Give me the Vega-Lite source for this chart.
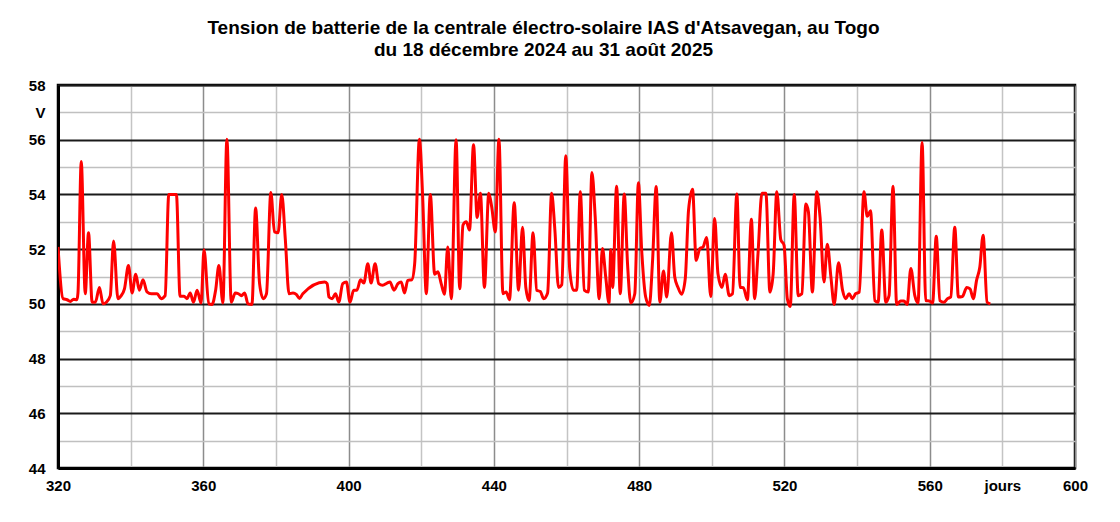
{
  "$schema": "https://vega.github.io/schema/vega-lite/v6.json",
  "autosize": "none",
  "width": 1017,
  "height": 383,
  "padding": {"left": 58, "top": 85, "right": 45, "bottom": 54},
  "background": "#ffffff",
  "title": {
    "text": ["Tension de batterie de la centrale électro-solaire IAS d'Atsavegan, au Togo", "du 18 décembre 2024 au 31 août 2025"],
    "font": "Liberation Sans",
    "fontSize": 19,
    "fontWeight": "bold",
    "color": "#000000",
    "anchor": "middle",
    "frame": "group",
    "dx": -23,
    "offset": 18,
    "lineHeight": 22
  },
  "config": {
    "view": {"stroke": "#000000", "strokeWidth": 2.5},
    "axis": {
      "labelFont": "Liberation Sans",
      "labelFontWeight": "bold",
      "labelFontSize": 15,
      "labelColor": "#000000",
      "domainColor": "#000000",
      "domainWidth": 3,
      "ticks": false,
      "title": null
    }
  },
  "data": {
    "values": [
      {"d": 320.0, "v": 52.08}, {"d": 321.4, "v": 50.19}, {"d": 322.5, "v": 50.15}, {"d": 323.4, "v": 50.09},
      {"d": 324.3, "v": 50.17}, {"d": 325.2, "v": 50.15}, {"d": 325.5, "v": 50.4}, {"d": 326.4, "v": 55.2},
      {"d": 327.5, "v": 50.37}, {"d": 328.4, "v": 52.6}, {"d": 329.4, "v": 50.06}, {"d": 330.3, "v": 50.06},
      {"d": 331.4, "v": 50.6}, {"d": 332.4, "v": 50.0}, {"d": 333.3, "v": 50.06}, {"d": 334.4, "v": 50.3},
      {"d": 335.3, "v": 52.3}, {"d": 336.5, "v": 50.19}, {"d": 337.4, "v": 50.3}, {"d": 338.3, "v": 50.55},
      {"d": 339.4, "v": 51.4}, {"d": 340.4, "v": 50.4}, {"d": 341.4, "v": 51.08}, {"d": 342.4, "v": 50.5},
      {"d": 343.4, "v": 50.88}, {"d": 344.5, "v": 50.44}, {"d": 345.7, "v": 50.37}, {"d": 347.3, "v": 50.37},
      {"d": 348.4, "v": 50.19}, {"d": 349.5, "v": 50.3}, {"d": 350.5, "v": 54.0}, {"d": 352.6, "v": 54.0},
      {"d": 353.6, "v": 50.28}, {"d": 354.7, "v": 50.28}, {"d": 355.5, "v": 50.19}, {"d": 356.4, "v": 50.4},
      {"d": 357.3, "v": 50.06}, {"d": 358.3, "v": 50.5}, {"d": 359.4, "v": 50.03}, {"d": 360.2, "v": 51.98},
      {"d": 361.5, "v": 50.0}, {"d": 362.4, "v": 49.98}, {"d": 363.4, "v": 50.5}, {"d": 364.3, "v": 51.4},
      {"d": 365.4, "v": 50.03}, {"d": 366.5, "v": 56.02}, {"d": 367.7, "v": 50.06}, {"d": 368.8, "v": 50.4},
      {"d": 369.7, "v": 50.37}, {"d": 370.5, "v": 50.3}, {"d": 371.4, "v": 50.4}, {"d": 372.3, "v": 50.0},
      {"d": 373.4, "v": 49.98}, {"d": 374.4, "v": 53.5}, {"d": 375.5, "v": 50.74}, {"d": 376.5, "v": 50.19},
      {"d": 377.4, "v": 50.37}, {"d": 378.6, "v": 54.07}, {"d": 379.6, "v": 52.63}, {"d": 380.6, "v": 52.6},
      {"d": 381.6, "v": 54.0}, {"d": 382.6, "v": 52.33}, {"d": 383.6, "v": 50.37}, {"d": 384.7, "v": 50.4},
      {"d": 385.6, "v": 50.35}, {"d": 386.5, "v": 50.2}, {"d": 387.4, "v": 50.37}, {"d": 393.4, "v": 50.8},
      {"d": 394.1, "v": 50.74}, {"d": 394.6, "v": 50.25}, {"d": 395.5, "v": 50.19}, {"d": 396.4, "v": 50.37},
      {"d": 397.3, "v": 50.06}, {"d": 398.4, "v": 50.74}, {"d": 399.4, "v": 50.8}, {"d": 400.4, "v": 50.06},
      {"d": 401.4, "v": 50.5}, {"d": 402.3, "v": 50.5}, {"d": 403.3, "v": 50.88}, {"d": 404.2, "v": 50.76},
      {"d": 405.3, "v": 51.47}, {"d": 406.2, "v": 50.76}, {"d": 407.3, "v": 51.47}, {"d": 408.3, "v": 50.74},
      {"d": 409.4, "v": 50.68}, {"d": 410.6, "v": 50.76}, {"d": 411.4, "v": 50.8}, {"d": 412.5, "v": 50.5},
      {"d": 413.6, "v": 50.74}, {"d": 414.5, "v": 50.8}, {"d": 415.4, "v": 50.4}, {"d": 416.3, "v": 50.86},
      {"d": 417.4, "v": 50.88}, {"d": 418.2, "v": 51.47}, {"d": 419.5, "v": 56.02}, {"d": 420.4, "v": 53.9},
      {"d": 421.4, "v": 50.37}, {"d": 422.5, "v": 54.0}, {"d": 423.7, "v": 51.08}, {"d": 424.6, "v": 51.17},
      {"d": 425.5, "v": 50.74}, {"d": 426.4, "v": 50.35}, {"d": 427.3, "v": 52.08}, {"d": 428.3, "v": 50.19},
      {"d": 429.6, "v": 56.0}, {"d": 430.6, "v": 50.55}, {"d": 431.5, "v": 52.88}, {"d": 432.4, "v": 53.0},
      {"d": 433.3, "v": 52.7}, {"d": 434.4, "v": 55.82}, {"d": 435.4, "v": 53.16}, {"d": 436.3, "v": 54.04},
      {"d": 437.4, "v": 50.6}, {"d": 438.6, "v": 54.04}, {"d": 439.4, "v": 53.55}, {"d": 440.4, "v": 52.63},
      {"d": 441.4, "v": 56.02}, {"d": 442.5, "v": 50.37}, {"d": 443.4, "v": 50.43}, {"d": 444.3, "v": 50.15},
      {"d": 445.6, "v": 53.7}, {"d": 446.8, "v": 50.5}, {"d": 447.9, "v": 52.8}, {"d": 448.8, "v": 50.6},
      {"d": 449.7, "v": 50.12}, {"d": 450.8, "v": 52.6}, {"d": 451.8, "v": 50.5}, {"d": 452.8, "v": 50.45},
      {"d": 453.7, "v": 50.19}, {"d": 454.8, "v": 50.4}, {"d": 455.9, "v": 54.04}, {"d": 456.8, "v": 52.7},
      {"d": 457.8, "v": 50.6}, {"d": 458.7, "v": 50.7}, {"d": 459.8, "v": 55.41}, {"d": 460.9, "v": 51.23},
      {"d": 461.9, "v": 50.5}, {"d": 462.8, "v": 50.5}, {"d": 463.8, "v": 54.1}, {"d": 464.9, "v": 50.5},
      {"d": 466.0, "v": 50.43}, {"d": 467.0, "v": 54.8}, {"d": 467.9, "v": 53.18}, {"d": 469.0, "v": 50.19},
      {"d": 469.9, "v": 52.02}, {"d": 470.8, "v": 50.98}, {"d": 471.7, "v": 50.03}, {"d": 472.2, "v": 51.98},
      {"d": 472.7, "v": 50.6}, {"d": 473.8, "v": 54.3}, {"d": 474.8, "v": 50.37}, {"d": 475.9, "v": 54.02},
      {"d": 476.8, "v": 51.47}, {"d": 477.7, "v": 50.03}, {"d": 478.8, "v": 50.37}, {"d": 479.8, "v": 54.43},
      {"d": 480.7, "v": 51.96}, {"d": 481.8, "v": 50.25}, {"d": 482.8, "v": 49.94}, {"d": 483.7, "v": 51.59},
      {"d": 484.7, "v": 54.29}, {"d": 485.7, "v": 50.06}, {"d": 486.7, "v": 51.2}, {"d": 487.6, "v": 50.25},
      {"d": 488.9, "v": 52.6}, {"d": 489.8, "v": 50.98}, {"d": 490.7, "v": 50.6}, {"d": 491.7, "v": 50.35},
      {"d": 492.7, "v": 50.92}, {"d": 493.6, "v": 53.43}, {"d": 494.7, "v": 54.19}, {"d": 495.7, "v": 51.59},
      {"d": 496.7, "v": 52.02}, {"d": 497.6, "v": 52.08}, {"d": 498.6, "v": 52.43}, {"d": 499.7, "v": 50.27},
      {"d": 500.8, "v": 53.12}, {"d": 501.7, "v": 51.1}, {"d": 502.8, "v": 50.6}, {"d": 503.7, "v": 51.08},
      {"d": 504.8, "v": 50.3}, {"d": 505.7, "v": 50.37}, {"d": 506.9, "v": 54.02}, {"d": 507.8, "v": 50.6},
      {"d": 508.7, "v": 50.59}, {"d": 509.8, "v": 50.15}, {"d": 510.9, "v": 53.09}, {"d": 511.8, "v": 50.19},
      {"d": 512.7, "v": 51.78}, {"d": 513.8, "v": 54.04}, {"d": 514.9, "v": 54.04}, {"d": 516.0, "v": 50.43},
      {"d": 516.9, "v": 51.1}, {"d": 517.9, "v": 54.1}, {"d": 519.0, "v": 52.35}, {"d": 519.9, "v": 52.14},
      {"d": 520.8, "v": 50.19}, {"d": 521.6, "v": 49.9}, {"d": 522.7, "v": 54.0}, {"d": 523.8, "v": 50.3},
      {"d": 524.8, "v": 50.37}, {"d": 525.9, "v": 53.65}, {"d": 526.6, "v": 53.37}, {"d": 527.7, "v": 50.43},
      {"d": 528.9, "v": 54.1}, {"d": 529.8, "v": 53.18}, {"d": 530.9, "v": 50.8}, {"d": 531.8, "v": 52.18},
      {"d": 532.8, "v": 50.98}, {"d": 533.7, "v": 49.98}, {"d": 534.9, "v": 51.5}, {"d": 536.0, "v": 50.5},
      {"d": 536.9, "v": 50.19}, {"d": 537.8, "v": 50.37}, {"d": 538.7, "v": 50.19}, {"d": 539.6, "v": 50.37},
      {"d": 540.6, "v": 50.43}, {"d": 541.9, "v": 54.1}, {"d": 542.8, "v": 53.2}, {"d": 543.7, "v": 53.4},
      {"d": 544.9, "v": 50.12}, {"d": 545.8, "v": 50.06}, {"d": 546.8, "v": 52.7}, {"d": 547.9, "v": 50.06},
      {"d": 548.8, "v": 50.3}, {"d": 549.9, "v": 54.3}, {"d": 550.9, "v": 49.98}, {"d": 552.0, "v": 50.1},
      {"d": 552.9, "v": 50.1}, {"d": 553.8, "v": 49.98}, {"d": 554.8, "v": 51.29}, {"d": 555.9, "v": 50.3},
      {"d": 556.8, "v": 50.03}, {"d": 557.9, "v": 55.9}, {"d": 558.9, "v": 50.12}, {"d": 560.0, "v": 50.1},
      {"d": 560.8, "v": 50.03}, {"d": 561.8, "v": 52.47}, {"d": 562.8, "v": 50.12}, {"d": 563.9, "v": 50.06},
      {"d": 564.9, "v": 50.19}, {"d": 565.8, "v": 50.25}, {"d": 566.9, "v": 52.8}, {"d": 567.9, "v": 50.25},
      {"d": 569.0, "v": 50.27}, {"d": 570.2, "v": 50.6}, {"d": 571.1, "v": 50.55}, {"d": 572.0, "v": 50.19},
      {"d": 572.9, "v": 50.86}, {"d": 573.8, "v": 51.35}, {"d": 574.7, "v": 52.51}, {"d": 575.8, "v": 50.06},
      {"d": 576.7, "v": 50.0}
    ]
  },
  "mark": {"type": "line", "color": "#ff0000", "strokeWidth": 3, "interpolate": "monotone", "clip": true},
  "encoding": {
    "x": {
      "field": "d",
      "type": "quantitative",
      "scale": {"domain": [320, 600], "nice": false, "zero": false},
      "axis": {
        "values": [320, 340, 360, 380, 400, 420, 440, 460, 480, 500, 520, 540, 560, 580, 600],
        "labelExpr": "datum.value == 580 ? 'jours' : (datum.value % 40 == 0 ? datum.label : '')",
        "labelPadding": 10,
        "labelFlush": false,
        "labelOverlap": false,
        "grid": true,
        "gridColor": {"condition": {"test": "datum.value % 40 == 0", "value": "#8c8c8c"}, "value": "#c4c4c4"},
        "gridWidth": 1.5
      }
    },
    "y": {
      "field": "v",
      "type": "quantitative",
      "scale": {"domain": [44, 58], "nice": false, "zero": false},
      "axis": {
        "values": [44, 45, 46, 47, 48, 49, 50, 51, 52, 53, 54, 55, 56, 57, 58],
        "labelExpr": "datum.value == 57 ? 'V' : (datum.value % 2 == 0 ? datum.label : '')",
        "labelPadding": 13,
        "labelFlush": false,
        "labelOverlap": false,
        "grid": true,
        "gridColor": {"condition": {"test": "datum.value % 2 == 0", "value": "#1a1a1a"}, "value": "#c0c0c0"},
        "gridWidth": {"condition": {"test": "datum.value % 2 == 0", "value": 2}, "value": 1.5}
      }
    }
  }
}
